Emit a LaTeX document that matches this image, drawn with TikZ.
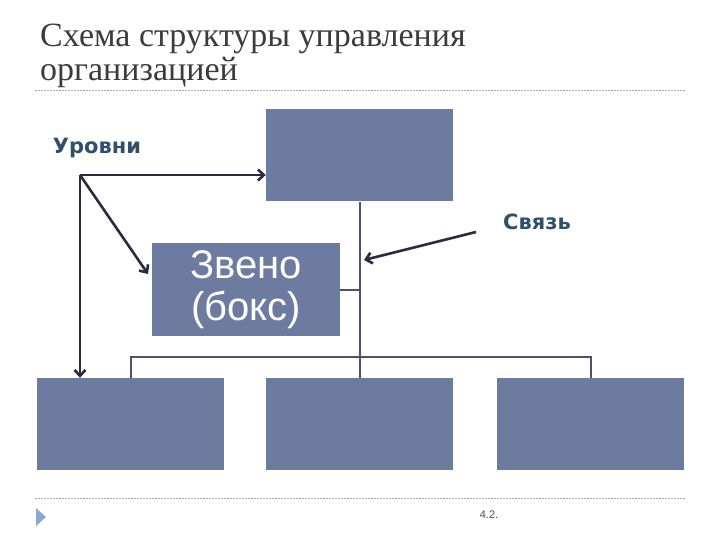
\documentclass[tikz,border=0pt]{standalone}
\usepackage{fontspec}
\usepackage{tikz}
\usetikzlibrary{calc,positioning,arrows.meta}
\newfontfamily\titlefont{Liberation Serif}
\newfontfamily\markfont{DejaVu Sans}
\newfontfamily\boxfont{Liberation Sans}
\definecolor{boxfill}{RGB}{110,123,161}
\definecolor{arrowcol}{RGB}{42,42,64}
\definecolor{linkcol}{RGB}{80,80,110}
\definecolor{markcol}{RGB}{47,79,106}
\definecolor{rulecol}{RGB}{170,170,170}
\definecolor{bulletcol}{RGB}{140,168,208}
\tikzstyle{unit}  = [rectangle, fill=boxfill, minimum width=187pt, minimum height=92pt, inner sep=0pt]
\tikzstyle{arrow} = [line width=2.6pt, draw=arrowcol, ->, >={Straight Barb[length=6pt,width=11pt]}]
\tikzstyle{link}  = [line width=2pt, draw=linkcol]
\tikzstyle{tag}   = [font=\markfont\bfseries\fontsize{21}{24}\selectfont, text=markcol]
\tikzstyle{rule}  = [draw=rulecol, dashed, line width=0.6pt, dash pattern=on 2pt off 1pt]

\begin{document}
\begin{tikzpicture}[x=1pt,y=-1pt]
    \useasboundingbox (0,0) rectangle (720,540);

    % title
    \node[anchor=base west, inner sep=0pt, text=black!77, align=left,
          font=\titlefont\fontsize{34}{34}\selectfont] (title) at (40,81)
          {Схема структуры управления\\организацией};
    \draw[rule] (35,90) -- (685,90);

    % boxes
    \node[unit] (top) at (359.5,155.5) {};
    \node[unit, minimum width=188pt, minimum height=93pt, text=white, align=center,
          font=\boxfont\fontsize{40}{42}\selectfont] (zveno) at (246,289.5) {Звено\\(бокс)};
    \node[unit] (left)  at (130.5,424) {};
    \node[unit] (mid)   at (359.5,424) {};
    \node[unit] (right) at (590.5,424) {};

    % links
    \draw[link] (top.south) -- (mid.north);
    \draw[link] (zveno.east) -- (zveno.east -| top.south);
    \draw[link] (left.north) -- ++(0,-21) -| (right.north);

    % labels
    \node[tag] (levels) at (97,148) {Уровни};
    \node[tag] (svyaz) at (537,222) {Связь};

    \coordinate (lv) at (80,175);
    \coordinate (zv) at (148,274);
    \coordinate (sv) at (476,232);
    \coordinate (st) at (364,260);

    \draw[arrow] (lv) -- (lv -| top.west);
    \draw[arrow] (lv) -- (lv |- left.north);
    \draw[arrow] (lv) -- (zv);
    \draw[arrow] (sv) -- (st);

    % footer
    \draw[rule] (35,498) -- (685,498);
    \fill[bulletcol] (36,508) -- (46,517) -- (36,526) -- cycle;
    \node[font=\boxfont\fontsize{11}{13}\selectfont, text=black!70] (page) at (489,515) {4.2.};
\end{tikzpicture}
\end{document}
